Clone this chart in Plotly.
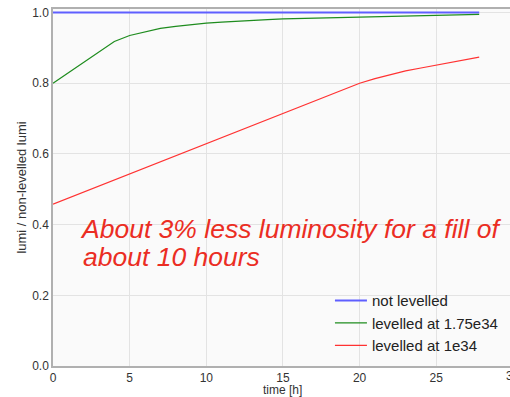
import plotly.graph_objects as go

# Fill time in hours
time_h = [0, 1, 2, 3, 4, 5, 6, 7, 8, 9, 10, 11, 12, 13, 14, 15, 16, 17, 18, 19,
          20, 21, 22, 23, 24, 25, 26, 27, 27.8]

# Luminosity ratio to the non-levelled case
not_levelled = [1.0] * len(time_h)
levelled_175e34 = [0.800, 0.830, 0.860, 0.890, 0.918, 0.935, 0.946, 0.955, 0.961, 0.966,
                   0.970, 0.973, 0.976, 0.978, 0.980, 0.982, 0.983, 0.985, 0.986, 0.987,
                   0.988, 0.989, 0.990, 0.991, 0.992, 0.993, 0.993, 0.994, 0.995]
levelled_1e34 = [0.458, 0.475, 0.492, 0.509, 0.527, 0.544, 0.561, 0.578, 0.595, 0.612,
                 0.629, 0.646, 0.663, 0.680, 0.697, 0.714, 0.731, 0.748, 0.766, 0.783,
                 0.800, 0.813, 0.825, 0.835, 0.843, 0.851, 0.860, 0.868, 0.874]

x_ticks = [0, 5, 10, 15, 20, 25, 30]
x_max = 29.81  # visible part of the time axis

series = [
    ("not levelled", not_levelled, "rgb(95,95,255)", 2),
    ("levelled at 1.75e34", levelled_175e34, "rgb(30,140,30)", 1.2),
    ("levelled at 1e34", levelled_1e34, "rgb(255,50,50)", 1.2),
]

FONT = "Liberation Sans, Arial, sans-serif"

fig = go.Figure()
for name, vals, color, w in series:
    fig.add_trace(go.Scatter(x=time_h, y=vals, mode="lines", name=name,
                             line=dict(color=color, width=w)))

# Two-line note, one annotation per line for tight line spacing
note_lines = ["About 3% less luminosity for a fill of", "about 10 hours"]
note_y = [0.387, 0.308]
note_x = [1.6, 1.83]
for txt, xv, yv in zip(note_lines, note_x, note_y):
    fig.add_annotation(
        x=xv, y=yv, xref="x", yref="y", xanchor="left", yanchor="middle",
        text=f"<i>{txt}</i>", showarrow=False, align="left",
        font=dict(family=FONT, size=26.5, color="rgb(235,45,35)"),
    )

# Last tick label sits at the clipped right edge of the axis
fig.add_annotation(
    x=x_ticks[-1] / x_max, y=0, xref="paper", yref="paper",
    xanchor="center", yanchor="top", yshift=-1,
    text=str(x_ticks[-1]), showarrow=False,
    font=dict(family=FONT, size=12, color="#333333"),
)

# Time-axis title, centred on the full 0-30 h span
fig.add_annotation(
    x=(x_ticks[0] + x_ticks[-1]) / 2, y=0, xref="x", yref="paper",
    xanchor="center", yanchor="top", yshift=-16, borderpad=0,
    text="time [h]", showarrow=False,
    font=dict(family=FONT, size=12, color="#333333"),
)

axis_common = dict(
    showgrid=True, gridcolor="#e3e3e3", gridwidth=1,
    showline=True, linecolor="#b0b0b0", linewidth=1.5, mirror=True,
    zeroline=False, ticks="", tickfont=dict(size=12, color="#333333"),
    automargin=False,
)

fig.update_layout(
    width=510, height=397,
    margin=dict(l=53, r=0, t=9, b=31),
    paper_bgcolor="white", plot_bgcolor="#fafafa",
    font=dict(family=FONT, color="#333333"),
    xaxis=dict(range=[0, x_max], tickvals=x_ticks, **axis_common),
    yaxis=dict(range=[0, 1.01], dtick=0.2, tickformat=".1f",
               title=dict(text="lumi / non-levelled lumi", font=dict(size=13), standoff=3),
               **axis_common),
    legend=dict(x=0.606, y=0.12, xanchor="left", yanchor="middle", bgcolor="rgba(0,0,0,0)",
                font=dict(size=15, color="#222222"), itemwidth=32, tracegroupgap=0),
    showlegend=True,
)

fig.write_html("out.html")
